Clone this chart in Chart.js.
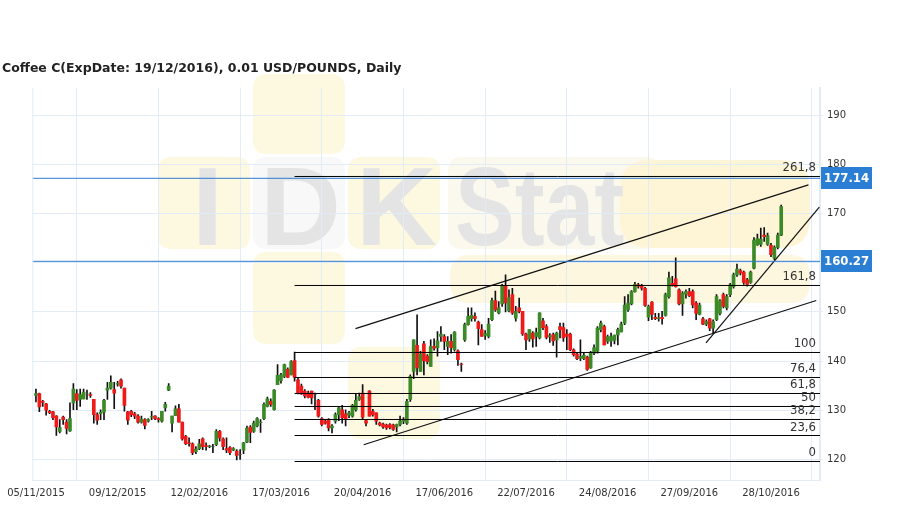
<!DOCTYPE html>
<html><head><meta charset="utf-8">
<script src="https://cdn.jsdelivr.net/npm/chart.js@4.4.1/dist/chart.umd.min.js"></script>
<style>
html,body{margin:0;padding:0;background:#fff;width:909px;height:509px;overflow:hidden}
#wrap{position:relative;width:909px;height:509px}
#title{position:absolute;left:2px;top:60px;font:bold 12.5px "DejaVu Sans",sans-serif;color:#222;white-space:nowrap;z-index:2}
canvas{position:absolute;left:0;top:0}
</style></head><body>
<div id="wrap"><canvas id="c" width="909" height="509"></canvas><div id="title">Coffee C(ExpDate: 19/12/2016), 0.01 USD/POUNDS, Daily</div></div>
<script>
// ---- data ----
const dateLabels = ['05/11/2015','09/12/2015','12/02/2016','17/03/2016','20/04/2016','17/06/2016','22/07/2016','24/08/2016','27/09/2016','28/10/2016'];
const labelIndex = [0,24,48,72,96,120,144,168,192,216];
const yTicks = [120,130,140,150,160,170,180,190];

const opens = [133.0,133.4,131.8,131.3,129.8,129.7,128.8,125.7,128.6,127.6,125.8,131.5,133.4,132.2,132.3,133.3,133.2,132.2,129.1,129.3,
129.6,134.1,134.5,134.2,135.3,136.2,134.5,129.7,129.8,129.3,128.8,127.6,128.1,127.8,128.6,128.8,128.3,127.8,130.5,134.1,
127.4,128.9,130.3,127.6,124.7,123.4,123.2,121.6,122.2,124.2,122.8,122.6,122.6,123.0,125.7,124.2,122.2,122.4,121.9,121.7,
121.0,121.9,123.5,126.6,125.7,126.8,127.5,128.3,130.8,131.8,130.1,135.2,136.0,136.9,138.3,137.2,140.1,136.2,134.9,133.9,
133.5,133.9,133.2,132.0,128.3,127.8,128.1,126.4,127.8,129.1,130.1,129.3,129.0,128.8,130.1,132.2,133.5,127.9,133.9,129.8,
129.5,127.4,127.2,127.0,127.1,127.0,126.6,127.1,127.8,127.4,132.2,137.9,143.2,137.9,143.5,141.0,138.9,143.0,142.7,145.0,
145.0,143.0,144.0,142.3,142.1,139.4,144.3,147.4,148.6,149.1,147.9,146.4,145.2,145.0,148.4,152.3,149.8,151.6,155.2,150.2,
153.5,148.7,150.8,150.1,145.5,144.5,145.7,145.0,144.7,148.2,147.0,144.9,145.4,144.3,147.0,146.8,145.5,145.5,142.3,141.4,
140.6,140.5,140.8,138.6,141.6,142.0,146.4,147.0,144.0,144.1,144.2,145.3,145.9,147.7,150.4,151.6,154.1,155.5,155.2,154.8,
148.9,152.0,148.9,148.6,148.9,149.3,153.1,155.8,156.7,154.5,151.6,153.6,154.1,154.1,151.8,149.5,148.6,147.5,148.6,146.7,
148.4,149.7,153.5,150.8,153.5,155.1,157.5,158.4,158.1,156.5,156.0,158.9,163.6,163.7,165.6,163.7,163.5,160.9,163.1,165.6];
const highs = [134.3,133.5,132.0,131.4,130.0,129.8,128.9,128.1,128.8,128.1,131.5,135.4,134.2,134.3,134.3,134.1,133.6,132.2,129.5,130.1,
132.2,135.7,137.0,135.7,135.9,136.4,134.5,129.8,130.0,129.6,129.1,128.8,128.3,128.3,129.8,128.9,128.5,129.8,131.6,135.4,
128.8,130.9,131.2,127.6,124.9,124.4,123.4,122.6,124.1,124.4,123.4,122.9,123.1,126.1,125.9,124.4,124.4,122.6,122.4,122.0,
122.0,123.5,126.8,126.9,127.8,128.5,128.1,131.5,132.7,132.3,134.2,139.3,137.5,139.4,138.6,140.1,141.8,136.6,135.3,134.2,
133.9,133.9,133.5,132.2,128.5,128.0,128.3,127.1,129.5,130.8,131.0,130.1,129.8,131.2,133.3,133.5,135.2,128.1,134.0,130.2,
129.5,127.6,127.4,127.2,127.3,127.2,127.2,128.8,128.5,132.2,137.2,144.3,149.4,142.0,144.0,141.3,144.3,144.5,146.0,147.0,
145.4,145.0,145.4,146.0,142.3,139.6,147.7,150.8,150.8,149.8,148.1,147.4,146.2,148.7,152.8,154.2,152.1,155.6,157.5,154.5,
154.8,151.1,152.8,150.1,145.7,146.4,146.0,146.7,149.8,148.7,147.4,145.6,145.7,145.9,147.7,147.7,146.4,145.7,142.5,141.6,
144.3,141.6,141.0,142.0,143.3,147.0,148.1,147.3,145.3,145.7,145.3,146.7,147.9,153.1,153.5,154.3,156.0,155.8,155.6,155.0,
151.4,152.1,149.7,149.7,150.1,153.8,158.1,157.2,161.0,154.7,154.1,154.5,154.8,154.5,152.1,151.8,148.9,148.4,148.7,148.4,
153.5,152.5,153.8,153.5,155.8,157.9,159.7,158.7,158.3,156.8,158.3,165.1,165.8,167.0,167.1,166.0,163.9,163.4,166.0,171.7];
const lows = [131.7,129.7,130.8,129.0,129.3,128.1,124.9,125.4,127.1,125.2,125.7,130.1,130.1,130.8,132.3,132.2,132.6,127.4,127.1,128.1,
128.1,132.2,134.3,130.3,134.9,134.5,129.8,127.1,128.7,128.3,127.4,127.4,126.2,127.6,128.1,128.1,127.6,127.6,129.8,134.0,
125.6,128.9,127.6,123.9,123.0,122.7,121.0,121.2,122.0,122.0,121.9,122.4,121.4,122.8,123.7,122.0,121.4,121.0,121.8,119.9,
120.0,121.2,123.4,123.4,125.5,126.6,125.5,128.1,130.7,130.8,130.0,135.2,135.5,136.6,136.6,137.2,135.9,133.3,133.2,132.5,
132.5,131.3,130.1,128.6,126.8,127.2,125.8,125.4,127.4,127.9,127.4,126.8,128.5,128.6,129.8,132.0,128.3,126.8,128.8,128.8,
127.1,126.8,126.3,126.1,126.2,125.9,125.6,126.8,127.3,127.1,131.8,136.4,137.2,137.9,137.2,139.4,138.9,142.2,141.0,144.0,
142.3,141.3,141.6,142.0,139.1,137.9,144.0,147.3,148.1,148.1,143.3,145.0,144.4,144.7,148.2,150.1,149.6,151.1,150.0,150.0,
149.5,148.1,149.8,145.2,142.3,144.0,142.8,143.0,144.5,146.4,144.5,143.8,143.2,140.8,144.7,144.0,142.3,142.1,141.0,140.3,
140.1,140.3,138.1,138.5,141.3,141.6,145.9,143.3,143.6,143.0,143.5,143.3,145.9,147.4,150.1,151.4,154.0,154.8,154.4,151.1,
148.2,148.4,148.4,148.1,147.5,149.1,152.8,155.2,155.0,151.4,149.3,152.8,153.1,150.8,148.4,149.4,147.4,147.2,146.2,145.7,
148.2,149.4,150.8,150.4,153.1,154.8,157.2,157.5,155.6,155.2,155.8,158.7,163.5,163.3,164.3,163.5,161.2,160.6,162.8,165.5];
const closes = [133.4,130.7,131.6,130.0,129.5,128.5,126.6,126.5,128.1,126.3,128.3,134.3,132.0,133.2,133.7,133.3,133.0,129.1,128.0,129.6,
132.0,134.5,135.7,133.5,135.4,134.9,131.0,128.0,129.1,128.8,127.6,128.2,126.9,128.1,128.7,128.3,128.1,129.8,131.2,134.9,
128.8,130.3,127.6,124.2,123.2,123.2,121.4,122.1,123.2,122.6,122.6,122.7,122.6,125.7,124.4,122.6,121.9,121.4,122.2,120.8,
121.0,123.4,126.4,125.5,127.4,128.3,127.6,131.2,132.3,131.2,134.1,137.1,137.2,139.3,136.7,139.9,136.7,133.5,133.3,132.9,
132.6,132.5,133.2,128.8,127.1,127.4,126.4,126.8,129.1,130.5,128.5,128.3,129.5,131.0,132.0,132.8,128.6,127.4,128.8,129.1,
127.8,127.0,126.6,126.4,126.5,126.1,127.1,127.8,128.0,131.8,136.9,144.3,138.6,141.4,140.1,139.9,143.0,142.6,144.1,145.5,
144.0,144.0,142.7,145.9,140.3,139.3,147.4,149.1,149.3,148.6,146.6,145.0,145.6,147.5,152.3,150.4,150.8,155.4,151.8,152.9,
149.8,150.1,150.1,145.5,144.3,146.4,144.5,145.8,149.8,146.8,144.8,145.2,144.1,145.7,146.4,144.7,145.0,142.3,141.3,140.5,
140.9,141.2,138.3,141.6,142.7,146.7,147.7,143.3,145.0,145.0,145.3,146.4,147.5,151.4,151.8,154.1,155.6,155.2,154.8,151.3,
151.1,149.5,148.6,148.8,148.6,153.5,156.9,155.4,155.1,151.6,153.8,154.1,153.3,151.4,149.7,151.4,147.5,148.0,146.7,148.0,
153.1,152.3,151.1,153.1,155.5,157.5,158.7,157.9,156.0,155.6,158.1,164.6,164.9,164.8,165.3,165.5,161.6,163.1,165.6,171.4];

// Fibonacci levels (label, price) and their start index
const fibLabels = ['0','23,6','38,2','50','61,8','76,4','100','161,8','261,8'];
const fibPrices = [119.59,124.87,128.13,130.77,133.41,136.66,141.74,155.36,177.51];
const fibStart = 76;
// highlighted price levels
const levelValues = [177.14,160.27];
// trend lines [x1,y1,x2,y2] in index/price units
const trendLines = [[93.9,146.6,227.0,175.8],[96.3,123.0,229.3,152.3],[196.9,143.7,230.2,171.3]];

// ---- build ----
const X_MIN=-1.08, X_MAX=230.4;
const bodies=[], wicks=[], colors=[];
for(let i=0;i<opens.length;i++){
  bodies.push({x:i,y:[opens[i],closes[i]]});
  wicks.push({x:i,y:[lows[i],highs[i]]});
  colors.push(closes[i]>opens[i]?'#3b8a27':(closes[i]<opens[i]?'#ef1a1a':'#555'));
}
const lineDs=(pts,color,w)=>({type:'line',data:pts,borderColor:color,borderWidth:w,pointRadius:0,fill:false,tension:0,order:-1});
const datasets=[
  {type:'bar',data:bodies,backgroundColor:colors,barThickness:3,grouped:false,order:0,borderWidth:0},
  {type:'bar',data:wicks,backgroundColor:'#111',barThickness:1,grouped:false,order:1,borderWidth:0}
];
fibPrices.forEach(p=>datasets.push(lineDs([{x:fibStart,y:p},{x:X_MAX,y:p}],'#000',1)));
levelValues.forEach(p=>datasets.push(lineDs([{x:X_MIN,y:p},{x:X_MAX,y:p}],'#2b7bd2',1)));
trendLines.forEach(t=>datasets.push(lineDs([{x:t[0],y:t[1]},{x:t[2],y:t[3]}],'#111',1.2)));

function rrect(ctx,x,y,w,h,r){ctx.beginPath();ctx.moveTo(x+r,y);ctx.lineTo(x+w-r,y);ctx.quadraticCurveTo(x+w,y,x+w,y+r);ctx.lineTo(x+w,y+h-r);ctx.quadraticCurveTo(x+w,y+h,x+w-r,y+h);ctx.lineTo(x+r,y+h);ctx.quadraticCurveTo(x,y+h,x,y+h-r);ctx.lineTo(x,y+r);ctx.quadraticCurveTo(x,y,x+r,y);ctx.closePath();}

const GRID='#e2ecf6';
const plug={
  id:'deco',
  beforeDraw(chart){
    const ctx=chart.ctx; ctx.save();
    const Y='#fdf8e0', W='#f8f8f8';
    const sq=[[253,74,92,80,Y],[158,157,92,92,Y],[253,157,92,92,W],[348,157,92,92,Y],[448,157,212,92,'#fbf9ee'],[253,252,92,92,Y],[348,347,92,92,Y]];
    sq.forEach(s=>{ctx.fillStyle=s[4];rrect(ctx,s[0],s[1],s[2],s[3],14);ctx.fill();});
    ctx.fillStyle='#fdf5d6'; rrect(ctx,620,160,190,88,30); ctx.fill();
    ctx.fillStyle='#fdf7df'; rrect(ctx,450,255,360,48,20); ctx.fill();
    ctx.fillStyle='#e4e4e4';
    ctx.font='bold 112px "Liberation Sans"'; ctx.textBaseline='alphabetic'; ctx.textAlign='left';
    ctx.fillText('I',192,245); ctx.fillText('D',260,245); ctx.fillText('K',356,245);
    ctx.save(); ctx.translate(455,245); ctx.scale(0.8,1); ctx.fillText('Stat',0,0); ctx.restore();
    ctx.restore();
  },
  afterDraw(chart){
    const ctx=chart.ctx, xs=chart.scales.x, ys=chart.scales.y, a=chart.chartArea;
    ctx.save();
    ctx.strokeStyle=GRID; ctx.lineWidth=1;
    ctx.beginPath(); ctx.moveTo(a.left+0.5,a.top); ctx.lineTo(a.left+0.5,a.bottom); ctx.stroke();
    ctx.font='13px "DejaVu Sans Condensed","DejaVu Sans"'; ctx.fillStyle='#333'; ctx.textAlign='right'; ctx.textBaseline='alphabetic';
    fibLabels.forEach((t,k)=>ctx.fillText(t,a.right-4,ys.getPixelForValue(fibPrices[k])-5));
    levelValues.forEach(v=>{
      const py=Math.round(ys.getPixelForValue(v));
      ctx.fillStyle='#2a7fd5'; ctx.fillRect(a.right+1,py-11,51,22);
      ctx.fillStyle='#fff'; ctx.font='bold 13px "DejaVu Sans Condensed","DejaVu Sans"'; ctx.textAlign='left'; ctx.textBaseline='middle';
      ctx.fillText(v.toFixed(2),a.right+4,py+1);
    });
    ctx.restore();
  }
};

new Chart(document.getElementById('c'),{
  type:'bar',
  data:{datasets},
  options:{
    responsive:false, animation:false, events:[],
    layout:{padding:{left:28,top:88,right:0,bottom:0}},
    plugins:{legend:{display:false},tooltip:{enabled:false},title:{display:false}},
    scales:{
      x:{type:'linear',min:X_MIN,max:X_MAX,offset:false,
        afterBuildTicks:s=>{s.ticks=labelIndex.map(v=>({value:v}));},
        afterFit:s=>{s.height=29;},
        grid:{color:GRID,drawTicks:false},
        border:{color:GRID},
        ticks:{autoSkip:false,maxRotation:0,padding:7,color:'#333',font:{family:'"DejaVu Sans"',size:10},
          callback:v=>{const k=labelIndex.indexOf(v);return k>=0?dateLabels[k]:'';}}
      },
      y:{position:'right',min:115.83,max:195.49,
        afterBuildTicks:s=>{s.ticks=yTicks.map(v=>({value:v}));},
        afterFit:s=>{s.width=89;},
        grid:{color:GRID,tickLength:3},
        border:{color:GRID,width:2},
        ticks:{padding:4,color:'#333',font:{family:'"DejaVu Sans"',size:10},callback:v=>String(v)}
      }
    }
  },
  plugins:[plug]
});
</script>
</body></html>
